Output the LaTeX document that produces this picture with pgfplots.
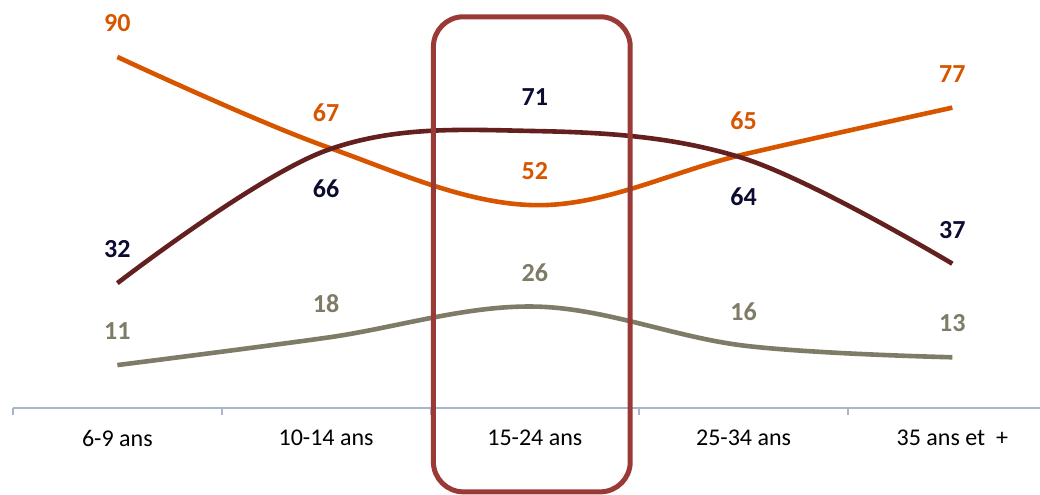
\documentclass[border=0pt]{standalone}
\usepackage{pgfplots}
\pgfplotsset{compat=1.18}
\usepackage{pgfplotstable}
\usepackage{fontspec}
\setmainfont{Carlito}
\definecolor{cOrange}{HTML}{D85500}
\definecolor{cMaroon}{HTML}{64201F}
\definecolor{cGray}{HTML}{7E7B66}
\definecolor{cNavy}{HTML}{0C0C30}
\definecolor{cAxis}{HTML}{A8B6CC}
\definecolor{cBox}{HTML}{9A3A36}

\pgfplotstableread{
x y off lab
0 90 17 90
1 67 17 67
2 52 17 52
3 65 17 65
4 77 17 77
}\orange
\pgfplotstableread{
x y off lab
0 32 17 32
1 66 -19 66
2 71 17 71
3 64 -19 64
4 37 17 37
}\maroon
\pgfplotstableread{
x y off lab
0 11 17 11
1 18 17 18
2 26 17 26
3 16 17 16
4 13 17 13
}\gray

\begin{document}
\begin{tikzpicture}
\begin{axis}[
  name=ax,
  scale only axis,
  width=513.5pt, height=204pt,
  xmin=-0.5, xmax=4.42, ymin=0, ymax=104.6,
  enlargelimits=false,
  clip=false,
  axis x line*=bottom,
  axis y line=none,
  x axis line style={draw=cAxis, line width=0.8pt},
  xtick={0,1,2,3,4},
  xticklabels={6-9 ans,10-14 ans,15-24 ans,25-34 ans,35 ans et\ \ +},
  minor xtick={-0.5,0.5,1.5,2.5,3.5},
  major tick length=0pt,
  minor tick length=3.5pt,
  tick align=outside,
  every tick/.style={draw=cAxis, line width=0.8pt},
  xticklabel style={font=\fontsize{12}{14}\selectfont, anchor=center, yshift=-15pt, text=black},
  every axis plot/.append style={line width=2.3pt, smooth, tension=0.6, mark=none},
  point meta=explicit symbolic,
  nodes near coords,
  visualization depends on={\thisrow{off} \as \off},
  every node near coord/.append style={anchor=center, yshift=\off pt, font=\fontsize{13}{15}\selectfont\bfseries},
]
\addplot[cOrange, every node near coord/.append style={text=cOrange}] table[x=x, y=y, meta=lab] {\orange};
\addplot[cMaroon, every node near coord/.append style={text=cNavy}] table[x=x, y=y, meta=lab] {\maroon};
\addplot[cGray, every node near coord/.append style={text=cGray}] table[x=x, y=y, meta=lab] {\gray};
\draw[cBox, line width=2.5pt, rounded corners=15pt] (axis cs:1.514,100.3) rectangle (axis cs:2.457,-21.5);
\end{axis}
\pgfresetboundingbox
\useasboundingbox ([xshift=-6.5pt,yshift=-43.5pt]ax.south west) rectangle (ax.north east);
\end{tikzpicture}
\end{document}
